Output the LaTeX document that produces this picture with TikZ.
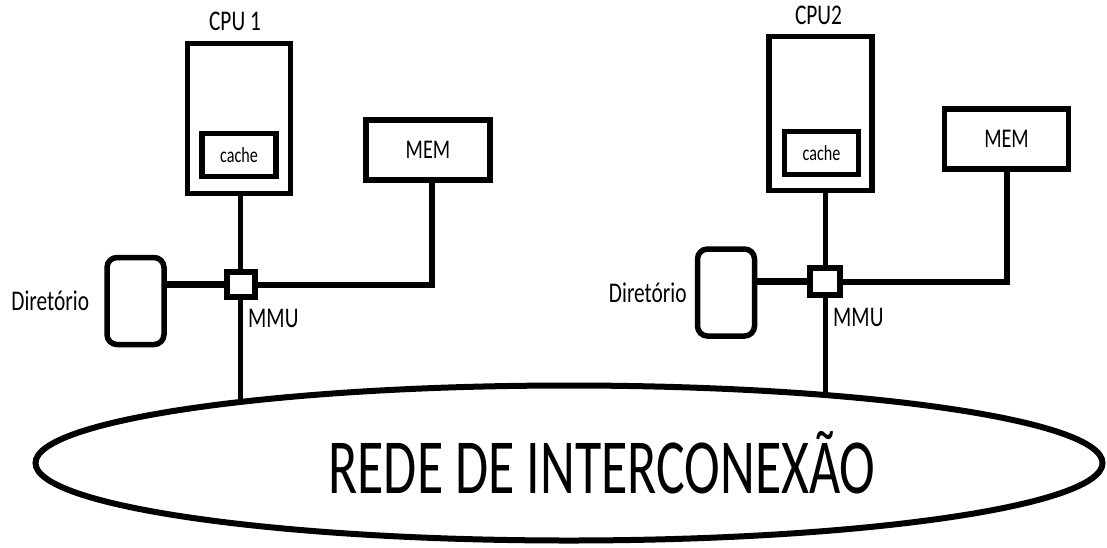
\documentclass[tikz,border=0pt]{standalone}
\usepackage{fontspec}
\setmainfont{Carlito}[FakeStretch=0.75]
\newfontfamily\redefont{Carlito}[FakeStretch=0.69]
\usetikzlibrary{positioning,shapes.geometric}
\tikzset{
  cpubox/.style={draw, line width=5.5pt, minimum width=103pt, minimum height=150pt, inner sep=0pt},
  cachebox/.style={draw, line width=5.5pt, minimum width=74pt, minimum height=43pt, inner sep=0pt,
    font=\fontsize{21.5}{23}\selectfont},
  membox/.style={draw, line width=5.5pt, minimum width=124pt, minimum height=60pt, inner sep=0pt,
    font=\fontsize{27}{29}\selectfont},
  dirbox/.style={draw, line width=5.5pt, rounded corners=10pt, minimum width=57pt, minimum height=87pt},
  mmubox/.style={draw, fill=white, line width=6pt, minimum width=28pt, minimum height=25pt, inner sep=0pt},
  lbl/.style={inner sep=0pt, font=\fontsize{28.5}{30}\selectfont},
  wire/.style={line width=5pt},
  hwire/.style={line width=7pt},
  netellipse/.style={ellipse, draw, line width=6pt, minimum width=1067pt, minimum height=155pt, inner sep=0pt}
}

\begin{document}
\begin{tikzpicture}[x=1pt,y=-1pt]
    \useasboundingbox (0,0) rectangle (1107,547);

    % node 1
    \node[cpubox] (cpuA) at (239,118.5) {};
    \node[cachebox] (cacheA) at (239,155) {cache};
    \node[membox] (memA) at (428,150) {MEM};
    \node[dirbox] (dirA) at (135.5,301) {};
    \node[lbl,above=10pt of cpuA,xshift=-4pt] (cpuAlbl) {CPU 1};
    \node[lbl,left=15pt of dirA] (dirAlbl) {Diretório};

    % node 2
    \node[cpubox,minimum height=154pt] (cpuB) at (820.5,113.5) {};
    \node[cachebox] (cacheB) at (821.5,153) {cache};
    \node[membox] (memB) at (1006.5,139) {MEM};
    \node[dirbox] (dirB) at (726,292.5) {};
    \node[lbl,above=9pt of cpuB,xshift=-2pt] (cpuBlbl) {CPU2};
    \node[lbl,left=8pt of dirB] (dirBlbl) {Diretório};

    % rede
    \node[netellipse] (rede) at (569,463) {};
    \node[inner sep=0pt,anchor=base,font=\redefont\fontsize{78}{82}\selectfont] (redelbl) at (602,493) {REDE DE INTERCONEXÃO};

    \draw[wire] (cpuA.south -| 240.5,0) -- (240.5,284.5) coordinate (mmuApos);
    \draw[wire] (cpuB.south -| 825,0) -- (825,281.5) coordinate (mmuBpos);
    \draw[wire] (240.5,284.5) -- (240.5,284.5 |- rede.170);
    \draw[wire] (825,281.5) -- (825,281.5 |- rede.15);

    \node[mmubox] (mmuA) at (mmuApos) {};
    \node[mmubox,minimum width=30pt,minimum height=27pt] (mmuB) at (mmuBpos) {};
    \node[lbl,below right=9pt and 7.5pt of mmuA.south] (mmuAlbl) {MMU};
    \node[lbl,below right=10pt and 8pt of mmuB.south] (mmuBlbl) {MMU};

    \draw[hwire] (dirA.east |- mmuA.west) -- (mmuA.west);
    \draw[hwire] (dirB.east |- mmuB.west) -- (mmuB.west);
    \draw[wire,line width=6pt] (mmuA.east) -| ([xshift=4pt]memA.south);
    \draw[wire,line width=6pt] (mmuB.east) -| (memB.south);
  \end{tikzpicture}
\end{document}
